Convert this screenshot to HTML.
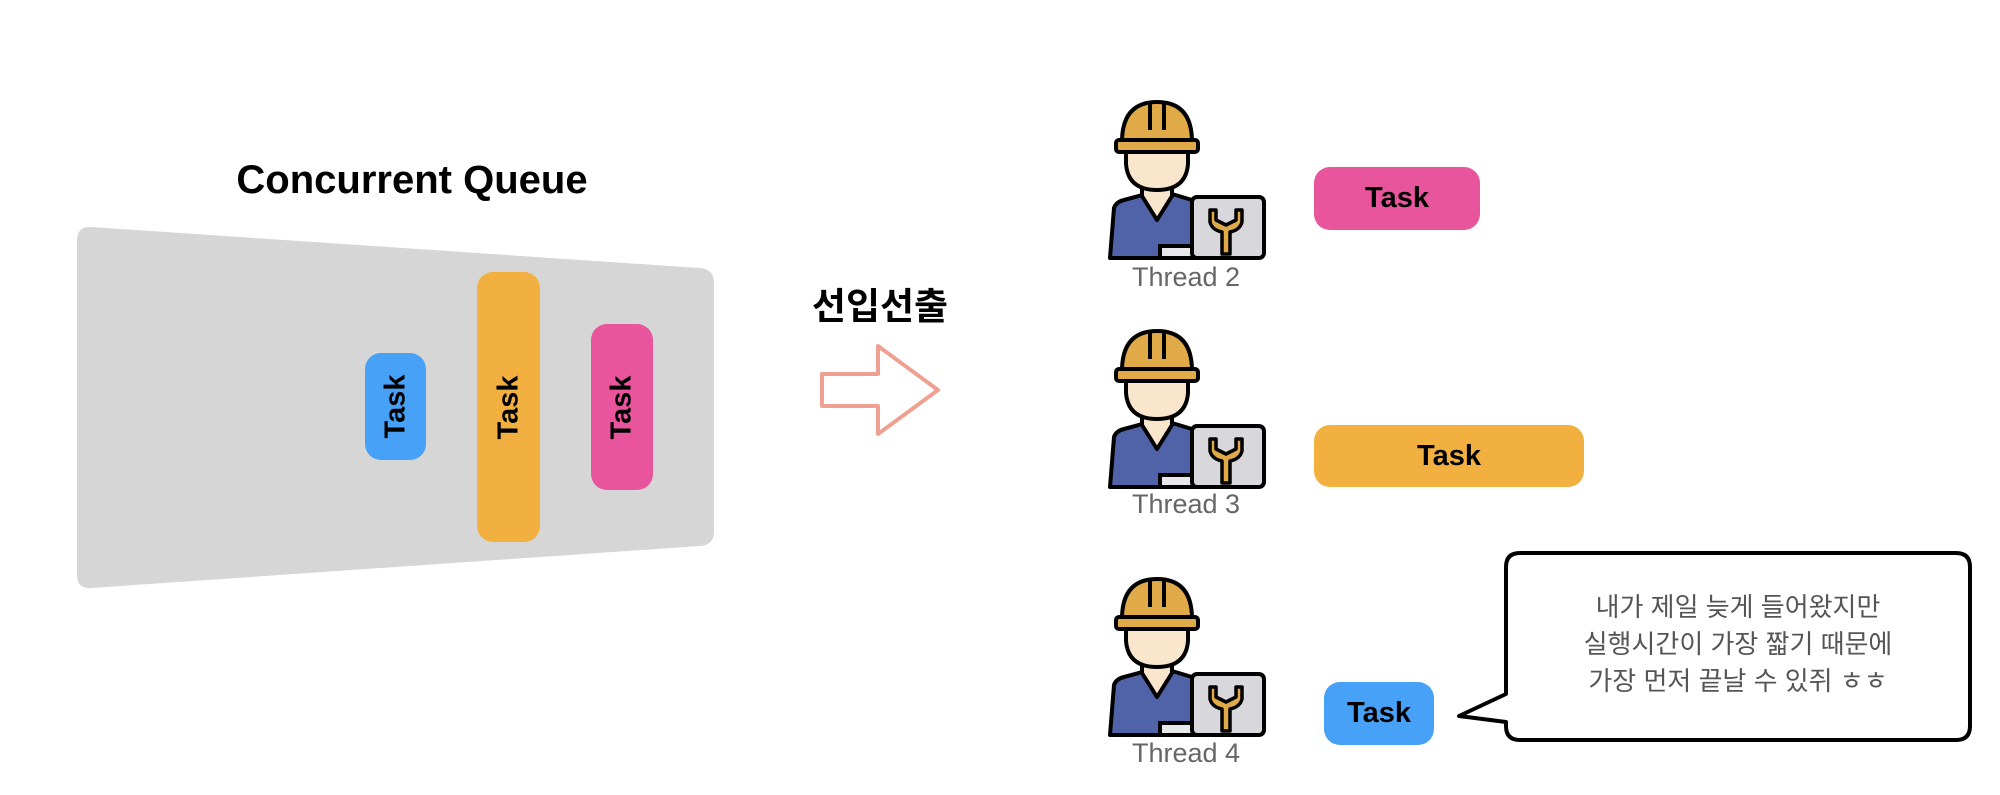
<!DOCTYPE html>
<html><head><meta charset="utf-8"><style>
body{margin:0;width:2000px;height:795px;background:#fff;position:relative;overflow:hidden;font-family:"Liberation Sans","Noto Sans CJK KR",sans-serif}
.t{position:absolute;font-weight:bold;color:#000;display:flex;align-items:center;justify-content:center;font-size:29px;border-radius:16px}
.v span{transform:rotate(-90deg);display:inline-block}
.lbl{position:absolute;width:200px;text-align:center;font-size:27px;color:#666}
</style></head><body>
<svg width="2000" height="795" style="position:absolute;left:0;top:0">
<defs>
<g id="w">
 <path d="M30 168 L34 118 Q36 112 44 110 L66 104 L92 104 L112 110 L112 168 Z" fill="#5063a8" stroke="#000" stroke-width="4" stroke-linejoin="round"/>
 <path d="M62 88 L62 106 L77 130 L92 106 L92 88 Z" fill="#fae6cc" stroke="#000" stroke-width="4" stroke-linejoin="round"/>
 <path d="M46 58 L46 74 Q48 100 77 100 Q106 100 108 74 L108 58 Z" fill="#fae6cc" stroke="#000" stroke-width="4" stroke-linejoin="round"/>
 <path d="M42 52 Q42 12 77 12 Q112 12 112 52 Z" fill="#e0aa48" stroke="#000" stroke-width="4" stroke-linejoin="round"/>
 <rect x="36" y="50" width="82" height="12" rx="3" fill="#e0aa48" stroke="#000" stroke-width="4"/>
 <path d="M70 14 L70 40 M84 14 L84 40" stroke="#000" stroke-width="4"/>
 <rect x="80" y="156" width="34" height="12" fill="#e8e8ea" stroke="#000" stroke-width="4"/>
 <rect x="112" y="107" width="72" height="61" rx="5" fill="#d8d8dc" stroke="#000" stroke-width="4"/>
 <path d="M130 120 L130 132 Q132 140 142 142 L142 164 L150 164 L150 142 Q160 140 162 132 L162 120 L156 120 L156 130 L146 135 L136 130 L136 120 Z" fill="#e0aa48" stroke="#000" stroke-width="3.5" stroke-linejoin="round"/>
</g>
</defs>
<path d="M91 227 L700 268 Q714 269 714 283 L714 532 Q714 545 700 546 L91 588 Q77 589 77 575 L77 241 Q77 226 91 227 Z" fill="#d6d6d6"/>
<path d="M822 374 L878 374 L878 346 L938 390 L878 434 L878 406 L822 406 Z" fill="none" stroke="#f0a090" stroke-width="4" stroke-linejoin="round"/>
<use href="#w" transform="translate(1080,90)"/>
<use href="#w" transform="translate(1080,319)"/>
<use href="#w" transform="translate(1080,567)"/>
<path d="M1520 553 L1956 553 Q1970 553 1970 567 L1970 726 Q1970 740 1956 740 L1520 740 Q1506 740 1506 726 L1506 722 L1459 716 L1506 694 L1506 567 Q1506 553 1520 553 Z" fill="#fff" stroke="#000" stroke-width="4" stroke-linejoin="round"/>
</svg>
<div style="position:absolute;left:162px;top:158px;width:500px;text-align:center;font-weight:bold;font-size:40px">Concurrent Queue</div>
<div style="position:absolute;left:780px;top:276px;width:200px;text-align:center;font-weight:bold;font-size:37px">선입선출</div>
<div class="t v" style="left:365px;top:353px;width:61px;height:107px;background:#47a2f7"><span>Task</span></div>
<div class="t v" style="left:477px;top:272px;width:63px;height:270px;background:#f1b040"><span>Task</span></div>
<div class="t v" style="left:591px;top:324px;width:62px;height:166px;background:#e9559c"><span>Task</span></div>
<div class="lbl" style="left:1086px;top:262px">Thread 2</div>
<div class="lbl" style="left:1086px;top:489px">Thread 3</div>
<div class="lbl" style="left:1086px;top:738px">Thread 4</div>
<div class="t" style="left:1314px;top:167px;width:166px;height:63px;background:#e9559c">Task</div>
<div class="t" style="left:1314px;top:425px;width:270px;height:62px;background:#f1b040">Task</div>
<div class="t" style="left:1324px;top:682px;width:110px;height:63px;background:#47a2f7">Task</div>
<div style="position:absolute;left:1506px;top:589px;width:464px;text-align:center;font-size:26px;line-height:37px;color:#555">내가 제일 늦게 들어왔지만<br>실행시간이 가장 짧기 때문에<br>가장 먼저 끝날 수 있쥐 ㅎㅎ</div>
</body></html>
